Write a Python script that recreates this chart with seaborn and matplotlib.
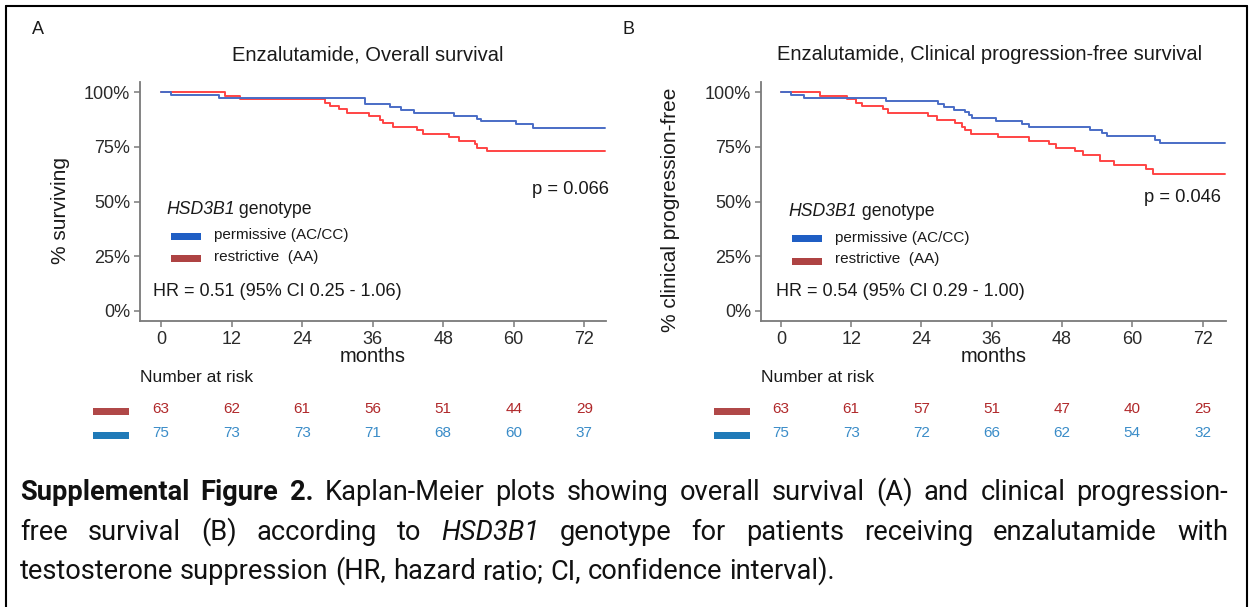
import numpy as np
import pandas as pd
import matplotlib
matplotlib.use("Agg")
import matplotlib.pyplot as plt
import matplotlib.transforms as mtrans
from matplotlib.patches import Rectangle
from matplotlib.lines import Line2D
import seaborn as sns

# ---------------- data ----------------
month_ticks = [0, 12, 24, 36, 48, 60, 72]
pct_ticks = [0.0, 0.25, 0.50, 0.75, 1.0]
pct_labels = ["0%", "25%", "50%", "75%", "100%"]

# Panel A: overall survival (Kaplan-Meier step points: time, survival)
os_perm_t = [0, 1.6, 9.8, 34.7, 38.9, 40.8, 43.1, 49.9, 53.7, 54.4, 60.3, 63.2, 75.6]
os_perm_s = [1.0, 0.987, 0.973, 0.947, 0.933, 0.920, 0.906, 0.891, 0.879, 0.866, 0.852, 0.837, 0.837]
os_restr_t = [0, 10.8, 13.4, 27.9, 28.8, 30.2, 31.6, 35.4, 37.2, 37.7, 39.4, 43.5, 44.6,
              48.9, 50.6, 53.4, 53.8, 55.5, 75.6]
os_restr_s = [1.0, 0.984, 0.968, 0.952, 0.937, 0.921, 0.905, 0.889, 0.873, 0.857, 0.841, 0.825,
              0.809, 0.794, 0.778, 0.762, 0.746, 0.730, 0.730]

# Panel B: clinical progression-free survival
pfs_perm_t = [0, 1.8, 3.9, 18.0, 26.9, 27.8, 29.5, 31.4, 32.1, 32.7, 36.8, 41.1, 42.4,
              52.8, 54.8, 55.7, 63.8, 64.8, 75.9]
pfs_perm_s = [1.0, 0.987, 0.973, 0.960, 0.947, 0.933, 0.920, 0.907, 0.893, 0.880, 0.867,
              0.853, 0.840, 0.826, 0.812, 0.799, 0.783, 0.767, 0.767]
pfs_restr_t = [0, 6.7, 11.3, 12.8, 13.9, 17.4, 18.3, 25.2, 26.7, 29.7, 30.9, 31.5, 32.4,
               37.0, 42.4, 45.8, 47.0, 50.2, 51.5, 54.5, 56.9, 62.3, 63.6, 75.9]
pfs_restr_s = [1.0, 0.984, 0.968, 0.952, 0.937, 0.921, 0.905, 0.889, 0.873, 0.857, 0.841,
               0.825, 0.810, 0.794, 0.778, 0.762, 0.746, 0.730, 0.714, 0.683, 0.667,
               0.647, 0.626, 0.626]

risk_os_restr = [63, 62, 61, 56, 51, 44, 29]
risk_os_perm = [75, 73, 73, 71, 68, 60, 37]
risk_pfs_restr = [63, 61, 57, 51, 47, 40, 25]
risk_pfs_perm = [75, 73, 72, 66, 62, 54, 32]

titles = ["Enzalutamide, Overall survival", "Enzalutamide, Clinical progression-free survival"]
ylabels = ["% surviving", "% clinical progression-free"]
panel_letters = ["A", "B"]
p_texts = ["p = 0.066", "p = 0.046"]
hr_texts = ["HR = 0.51 (95% CI 0.25 - 1.06)", "HR = 0.54 (95% CI 0.29 - 1.00)"]
legend_title_gene = "HSD3B1"
legend_title_rest = " genotype"
legend_labels = ["permissive (AC/CC)", "restrictive  (AA)"]

caption_lines = [
    "**Supplemental **Figure **2. Kaplan-Meier plots showing overall survival (A) and clinical progression-",
    "free survival (B) according to _HSD3B1 genotype for patients receiving enzalutamide with",
    "testosterone suppression (HR, hazard ratio; CI, confidence interval).",
]

# ---------------- style ----------------
sns.set_theme(style="white")
plt.rcParams["font.family"] = ["Liberation Sans", "DejaVu Sans"]

W, H = 1249, 607
fig = plt.figure(figsize=(W / 100, H / 100), dpi=100)
fig.patch.set_facecolor("white")
fig.canvas.draw()
renderer = fig.canvas.get_renderer()

def fx(px):
    return px / W

def fy(py):
    return 1 - py / H

c_blue_line = "#4A6CC6"
c_red_line = "#FF4444"
c_blue_sw = "#1F5EC4"
c_red_sw = "#AE4343"
c_risk_red = "#B0282A"
c_risk_blue = "#3A8CC8"
c_risk_sw_red = "#B04848"
c_risk_sw_blue = "#1F7AB8"
txt = "#1a1a1a"

panels = [
    dict(l=140, r=606, xlim=(-3.6, 75.7),
         perm=(os_perm_t, os_perm_s), restr=(os_restr_t, os_restr_s),
         risk_r=risk_os_restr, risk_b=risk_os_perm,
         title_x=368, letter_x=38, ylab_x=60,
         leg_title=(166, 214), leg_sw=(171, 201), leg_y=(236.5, 258.5), leg_lab_x=214,
         p_xy=(609, 190), hr_xy=(153, 292), risk_sw=(93, 129)),
    dict(l=761, r=1226, xlim=(-3.4, 76.0),
         perm=(pfs_perm_t, pfs_perm_s), restr=(pfs_restr_t, pfs_restr_s),
         risk_r=risk_pfs_restr, risk_b=risk_pfs_perm,
         title_x=990, letter_x=628, ylab_x=670,
         leg_title=(788, 216), leg_sw=(792, 822), leg_y=(239, 261), leg_lab_x=835,
         p_xy=(1221, 197), hr_xy=(776, 292), risk_sw=(714, 750)),
]

top_px, bot_px = 82, 321
for i, P in enumerate(panels):
    ax = fig.add_axes([fx(P["l"]), fy(bot_px), (P["r"] - P["l"]) / W, (bot_px - top_px) / H])
    ax.set_facecolor("white")
    for (t, s), col in [(P["restr"], c_red_line), (P["perm"], c_blue_line)]:
        df = pd.DataFrame({"month": t, "surv": s})
        sns.lineplot(data=df, x="month", y="surv", ax=ax, drawstyle="steps-post",
                     color=col, lw=1.4, estimator=None, sort=False)
    ax.set_xlim(*P["xlim"])
    ax.set_ylim(-0.046, 1.046)
    ax.set_xticks(month_ticks)
    ax.set_xticklabels([str(m) for m in month_ticks])
    ax.set_yticks(pct_ticks)
    ax.set_yticklabels(pct_labels)
    ax.set_xlabel("")
    ax.set_ylabel("")
    for sp in ["top", "right"]:
        ax.spines[sp].set_visible(False)
    for sp in ["left", "bottom"]:
        ax.spines[sp].set_color("#7a7a7a")
        ax.spines[sp].set_linewidth(1.3)
    ax.tick_params(axis="both", length=4, width=1.1, color="#7a7a7a",
                   labelsize=13, labelcolor="#2a2a2a", pad=3, bottom=True, left=True)

    # titles & labels
    fig.text(fx(P["title_x"]), fy(55), titles[i], ha="center", va="center", fontsize=14.5, color=txt)
    fig.text(fx(P["letter_x"]), fy(30), panel_letters[i], ha="center", va="center", fontsize=13, color=txt)
    fig.text(fx(P["ylab_x"]), fy(210), ylabels[i], ha="center", va="center", rotation=90,
             fontsize=15, color=txt)
    fig.text(fx((P["l"] + P["r"]) / 2), fy(356), "months", ha="center", va="center", fontsize=14.5, color=txt)

    # in-plot legend
    tg = fig.text(fx(P["leg_title"][0]), fy(P["leg_title"][1]), legend_title_gene, ha="left",
                  va="baseline", fontsize=12.7, fontstyle="italic", color=txt)
    gw = tg.get_window_extent(renderer).width
    fig.text(fx(P["leg_title"][0] + gw), fy(P["leg_title"][1]), legend_title_rest, ha="left",
             va="baseline", fontsize=12.7, color=txt)
    for yy, col, lab in zip(P["leg_y"], [c_blue_sw, c_red_sw], legend_labels):
        fig.patches.append(Rectangle((fx(P["leg_sw"][0]), fy(yy + 3.5)),
                                     (P["leg_sw"][1] - P["leg_sw"][0]) / W, 7 / H,
                                     transform=fig.transFigure, color=col, lw=0))
        fig.text(fx(P["leg_lab_x"]), fy(yy - 1.5), lab, ha="left", va="center", fontsize=11, color=txt)

    fig.text(fx(P["p_xy"][0]), fy(P["p_xy"][1]), p_texts[i], ha="right", va="center", fontsize=13.2, color=txt)
    fig.text(fx(P["hr_xy"][0]), fy(P["hr_xy"][1]), hr_texts[i], ha="left", va="center", fontsize=13, color=txt)

    # risk table
    fig.text(fx(P["l"]), fy(378), "Number at risk", ha="left", va="center", fontsize=12.5, color=txt)
    blend = mtrans.blended_transform_factory(ax.transData, fig.transFigure)
    for m, nr, nb in zip(month_ticks, P["risk_r"], P["risk_b"]):
        ax.text(m, fy(409), str(nr), transform=blend, ha="center", va="center",
                fontsize=11, color=c_risk_red, clip_on=False)
        ax.text(m, fy(433), str(nb), transform=blend, ha="center", va="center",
                fontsize=11, color=c_risk_blue, clip_on=False)
    for yy, col in [(411.5, c_risk_sw_red), (435.5, c_risk_sw_blue)]:
        fig.patches.append(Rectangle((fx(P["risk_sw"][0]), fy(yy + 3.5)),
                                     (P["risk_sw"][1] - P["risk_sw"][0]) / W, 7 / H,
                                     transform=fig.transFigure, color=col, lw=0))

# ---------------- caption (justified) ----------------
cap_font = ["Roboto", "DejaVu Sans"]

def parse(line):
    words = []
    for w in line.split(" "):
        weight, style = "normal", "normal"
        if w.startswith("**"):
            w, weight = w[2:], "bold"
        if w.startswith("_"):
            w, style = w[1:], "italic"
        words.append((w, weight, style))
    return words

def measure(s, fs, weight="normal", style="normal"):
    t = fig.text(0, 0, s, fontsize=fs, fontweight=weight, fontstyle=style, family=cap_font)
    w = t.get_window_extent(renderer).width
    t.remove()
    return w

def natural_width(words, fs):
    sp = measure("x x", fs) - measure("xx", fs)
    return sum(measure(w, fs, wt, st) for w, wt, st in words) + sp * (len(words) - 1)

parsed = [parse(l) for l in caption_lines]
fs_ref = 10.0
target3 = 815.0
cap_fs = fs_ref * target3 / natural_width(parsed[2], fs_ref)

left_px, right_px = 20, 1228
baselines = [500, 540, 579]
space_w = measure("x x", cap_fs) - measure("xx", cap_fs)
for li, words in enumerate(parsed):
    widths = [measure(w, cap_fs, wt, st) for w, wt, st in words]
    if li < 2:
        gap = (right_px - left_px - sum(widths)) / (len(words) - 1)
    else:
        gap = space_w
    x = left_px
    for (w, wt, st), ww in zip(words, widths):
        fig.text(fx(x), fy(baselines[li]), w, ha="left", va="baseline", fontsize=cap_fs,
                 fontweight=wt, fontstyle=st, family=cap_font, color="#111111")
        x += ww + gap

# ---------------- border ----------------
for xs, ys in [([6, 6], [6, 607]), ([6, 1247], [6, 6]), ([1247, 1247], [6, 607])]:
    fig.lines.append(Line2D([fx(v) for v in xs], [fy(v) for v in ys], transform=fig.transFigure,
                            color="black", lw=1.5))

fig.savefig("out.png", dpi=100, facecolor="white")
